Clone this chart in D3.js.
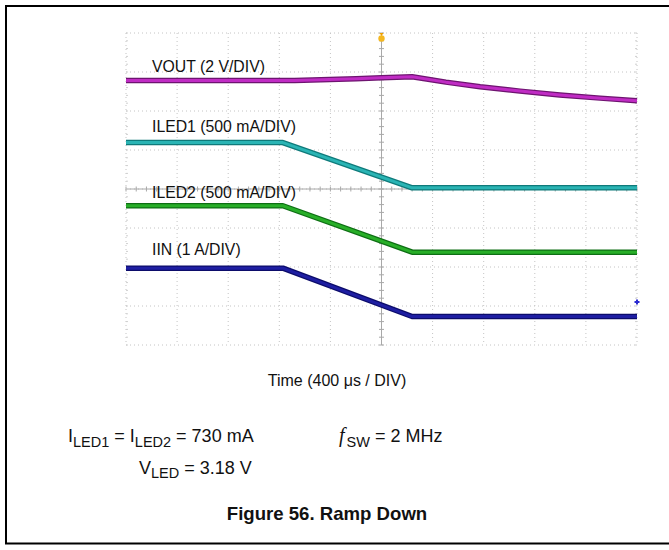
<!DOCTYPE html>
<html><head><meta charset="utf-8">
<script src="https://cdn.jsdelivr.net/npm/d3@7"></script>
<style>html,body{margin:0;padding:0;background:#fff;}svg{display:block;font-family:"Liberation Sans",Arial,sans-serif;}</style>
</head><body>
<script>
// time in divisions (400 µs / DIV), values in divisions from screen centre
const vout  = [[0,2.78],[3.3,2.78],[4.5,2.83],[5.0,2.85],[5.6,2.88],[6.26,2.74],[6.93,2.62],[7.71,2.51],[8.49,2.41],[9.28,2.33],[10,2.26]];
const iled1 = [[0,1.19],[3.07,1.19],[5.6,0.03],[10,0.03]];
const iled2 = [[0,-0.43],[3.07,-0.43],[5.6,-1.62],[10,-1.62]];
const iin   = [[0,-2.03],[3.07,-2.03],[5.6,-3.27],[10,-3.27]];
const traceLabels = ["VOUT (2 V/DIV)","ILED1 (500 mA/DIV)","ILED2 (500 mA/DIV)","IIN (1 A/DIV)"];
const labelLevels = [3.0, 1.47, -0.24, -1.7];
const xDivs = d3.range(0,11);
const yDivs = d3.range(-4,5);

const W=669,H=550;
const svg=d3.select("body").append("svg").attr("width",W).attr("height",H);
const x=d3.scaleLinear().domain([0,10]).range([126,637]);
const y=d3.scaleLinear().domain([-4,4]).range([345,33]);

// frame
svg.append("path").attr("d","M5,6H669 M6,6V543.5 M5,543.5H669").attr("stroke","#000").attr("stroke-width",2).attr("fill","none");

// grid
const g=svg.append("g");
g.selectAll(".vx").data(xDivs).join("line")
 .attr("x1",d=>x(d)).attr("x2",d=>x(d)).attr("y1",y(4)).attr("y2",y(-4))
 .attr("stroke","#c4c4c4").attr("stroke-width",1).attr("stroke-dasharray","1,3");
g.selectAll(".hy").data(yDivs).join("line")
 .attr("y1",d=>y(d)).attr("y2",d=>y(d)).attr("x1",x(0)).attr("x2",x(10))
 .attr("stroke","#c4c4c4").attr("stroke-width",1).attr("stroke-dasharray","1,3");
// centre axes
g.append("line").attr("x1",x(5)).attr("x2",x(5)).attr("y1",y(4)).attr("y2",y(-4)).attr("stroke","#a8a8a8").attr("stroke-width",1);
g.append("line").attr("x1",x(0)).attr("x2",x(10)).attr("y1",y(0)).attr("y2",y(0)).attr("stroke","#a8a8a8").attr("stroke-width",1);
const minorY=d3.range(-4,4.01,0.2), minorX=d3.range(0,10.01,0.2);
g.selectAll(".ty").data(minorY).join("line")
 .attr("x1",x(5)-2.5).attr("x2",x(5)+2.5).attr("y1",d=>y(d)).attr("y2",d=>y(d)).attr("stroke","#a8a8a8");
g.selectAll(".tx").data(minorX).join("line")
 .attr("y1",y(0)-2.5).attr("y2",y(0)+2.5).attr("x1",d=>x(d)).attr("x2",d=>x(d)).attr("stroke","#a8a8a8");
// edge ticks
g.selectAll(".ey").data(minorY).join("line")
 .attr("x1",x(10)-2).attr("x2",x(10)).attr("y1",d=>y(d)).attr("y2",d=>y(d)).attr("stroke","#cfcfcf");
g.selectAll(".ey2").data(minorY).join("line")
 .attr("x1",x(0)).attr("x2",x(0)+2).attr("y1",d=>y(d)).attr("y2",d=>y(d)).attr("stroke","#cfcfcf");

// traces
const line=d3.line().x(d=>x(d[0])).y(d=>y(d[1]));
const traces=[
 {data:vout, outer:"#6e1470", inner:"#c02cc4"},
 {data:iled1,outer:"#0f7a7a", inner:"#2ab4b4"},
 {data:iled2,outer:"#0e6e14", inner:"#28ae28"},
 {data:iin,  outer:"#0c0c6a", inner:"#1e1ea2"}
];
traces.forEach(t=>{
  svg.append("path").datum(t.data).attr("d",line).attr("fill","none").attr("stroke",t.outer).attr("stroke-width",5.5).attr("stroke-linejoin","round");
  svg.append("path").datum(t.data).attr("d",line).attr("fill","none").attr("stroke",t.inner).attr("stroke-width",3).attr("stroke-linejoin","round");
});

// labels
svg.selectAll(".lbl").data(traceLabels).join("text")
 .attr("x",152).attr("y",(d,i)=>y(labelLevels[i])).attr("font-size",15.8).attr("fill","#111").text(d=>d);

// trigger marker
svg.append("path").attr("d",`M${x(5)-2},${y(4)} L${x(5)+2},${y(4)} L${x(5)},${y(4)+3}Z`).attr("fill","#f0a000");
svg.append("circle").attr("cx",x(5)).attr("cy",y(4)+5.5).attr("r",3.2).attr("fill","#f5b820");
// channel marker
svg.append("path").attr("d",`M${x(10)-2.5},${y(-2.9)}H${x(10)+2.5}M${x(10)},${y(-2.9)-2.5}V${y(-2.9)+2.5}`).attr("stroke","#2a2ad0").attr("stroke-width",2);

// axis title
svg.append("text").attr("x",337).attr("y",386).attr("text-anchor","middle").attr("font-size",16).attr("fill","#111").text("Time (400 μs / DIV)");

// conditions
const FS=18, SS=14.5, SD=4.5;
const t1=svg.append("text").attr("x",68).attr("y",442).attr("font-size",FS).attr("fill","#111");
t1.append("tspan").text("I");
t1.append("tspan").attr("font-size",SS).attr("dy",SD).text("LED1");
t1.append("tspan").attr("dy",-SD).text(" = I");
t1.append("tspan").attr("font-size",SS).attr("dy",SD).text("LED2");
t1.append("tspan").attr("dy",-SD).text(" = 730 mA");
const t2=svg.append("text").attr("x",139).attr("y",473.5).attr("font-size",FS).attr("fill","#111");
t2.append("tspan").text("V");
t2.append("tspan").attr("font-size",SS).attr("dy",SD).text("LED");
t2.append("tspan").attr("dy",-SD).text(" = 3.18 V");
const t3=svg.append("text").attr("x",339).attr("y",442).attr("font-size",FS).attr("fill","#111");
t3.append("tspan").attr("font-family","'Liberation Serif',serif").attr("font-style","italic").attr("font-size",20).text("f");
t3.append("tspan").attr("font-size",SS).attr("dy",SD).attr("dx",2).text("SW");
t3.append("tspan").attr("dy",-SD).text(" = 2 MHz");

// figure title
svg.append("text").attr("x",327).attr("y",520).attr("text-anchor","middle").attr("font-size",18.6).attr("font-weight","bold").attr("fill","#111").text("Figure 56. Ramp Down");
</script>
</body></html>
